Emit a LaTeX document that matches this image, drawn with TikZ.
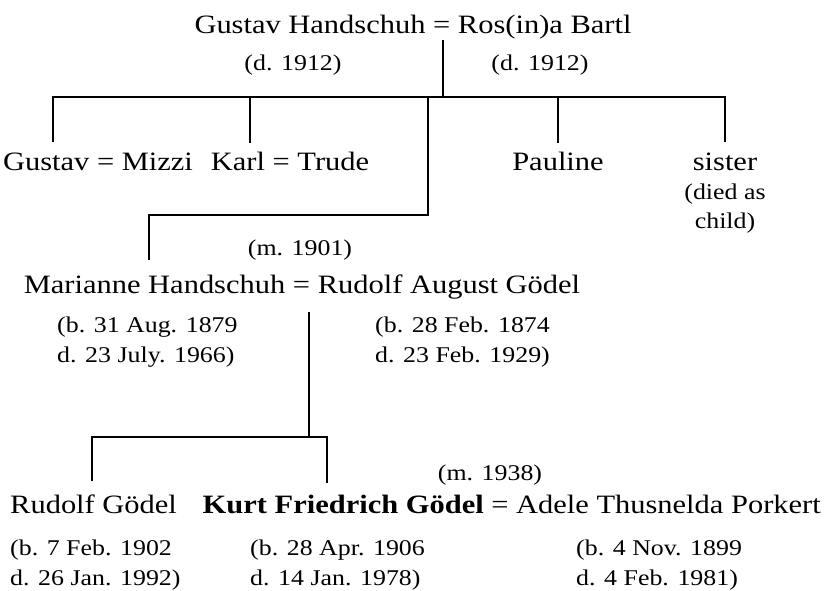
\documentclass[tikz,border=0pt]{standalone}
\usepackage{fontspec}
\setmainfont{Liberation Serif}[FakeStretch=1.15]
\begin{document}
\begin{tikzpicture}[x=1pt,y=-1pt,
  nm/.style={font=\fontsize{26.5}{30}\selectfont, inner sep=0pt, anchor=base},
  dt/.style={font=\fontsize{22.5}{30}\selectfont, inner sep=0pt, anchor=base west},
  dtc/.style={dt, anchor=base},
  ln/.style={line width=2.8pt, line join=miter, black}]
\useasboundingbox (0,0) rectangle (825,590);
% generation 1
\node[nm] (gh) at (413,33) {Gustav Handschuh = Ros(in)a Bartl};
\node[dtc] (ghd) at (293,70) {(d. 1912)};
\node[dtc] (rbd) at (540,70) {(d. 1912)};
% generation 2
\node[nm] (gm) at (98,170) {Gustav = Mizzi};
\node[nm] (kt) at (290,170) {Karl = Trude};
\node[nm] (pa) at (558,170) {Pauline};
\node[nm] (si) at (725,170) {sister};
\node[dtc] (si2) at (725,199) {(died as};
\node[dtc] (si3) at (725,228) {child)};
\node[dtc] (m1901) at (300,255) {(m. 1901)};
\node[nm] (mr) at (302,293) {Marianne Handschuh = Rudolf August Gödel};
\node[dt] (mb) at (57,332) {(b. 31 Aug. 1879};
\node[dt] (md) at (57,362) {d. 23 July. 1966)};
\node[dt] (rb) at (375,332) {(b. 28 Feb. 1874};
\node[dt] (rd) at (375,362) {d. 23 Feb. 1929)};
% generation 3
\node[dtc] (m1938) at (490,480) {(m. 1938)};
\node[nm, anchor=base west] (rg) at (10,513) {Rudolf Gödel};
\node[nm, anchor=base east] (kg) at (821,513) {\textbf{Kurt Friedrich Gödel} = Adele Thusnelda Porkert};
\node[dt] (rgb) at (10,555) {(b. 7 Feb. 1902};
\node[dt] (rgd) at (10,585) {d. 26 Jan. 1992)};
\node[dt] (kgb) at (250,555) {(b. 28 Apr. 1906};
\node[dt] (kgd) at (250,585) {d. 14 Jan. 1978)};
\node[dt] (apb) at (576,555) {(b. 4 Nov. 1899};
\node[dt] (apd) at (576,585) {d. 4 Feb. 1981)};
% connectors
\coordinate (c1t) at (443,40);
\coordinate (c1b) at (443,97);
\coordinate (gmT) at (53,142);
\coordinate (gmB) at (53,97);
\coordinate (siB) at (725,97);
\coordinate (siT) at (725,142);
\coordinate (ktB) at (250,97);
\coordinate (ktT) at (250,143);
\coordinate (paB) at (558,97);
\coordinate (paT) at (558,143);
\coordinate (mrB) at (428,97);
\coordinate (mrK1) at (428,215);
\coordinate (mrK2) at (149,215);
\coordinate (mrT) at (149,260);
\draw[ln] (c1t) -- (c1b);
\draw[ln] (gmT) -- (gmB) -- (siB) -- (siT);
\draw[ln] (ktB) -- (ktT);
\draw[ln] (paB) -- (paT);
\draw[ln] (mrB) -- (mrK1) -- (mrK2) -- (mrT);
\coordinate (c2t) at (309,312);
\coordinate (c2b) at (309,437);
\coordinate (rgT) at (92,481);
\coordinate (rgB) at (92,437);
\coordinate (kgB) at (327,437);
\coordinate (kgT) at (327,483);
\draw[ln] (c2t) -- (c2b);
\draw[ln] (rgT) -- (rgB) -- (kgB) -- (kgT);
\end{tikzpicture}
\end{document}
